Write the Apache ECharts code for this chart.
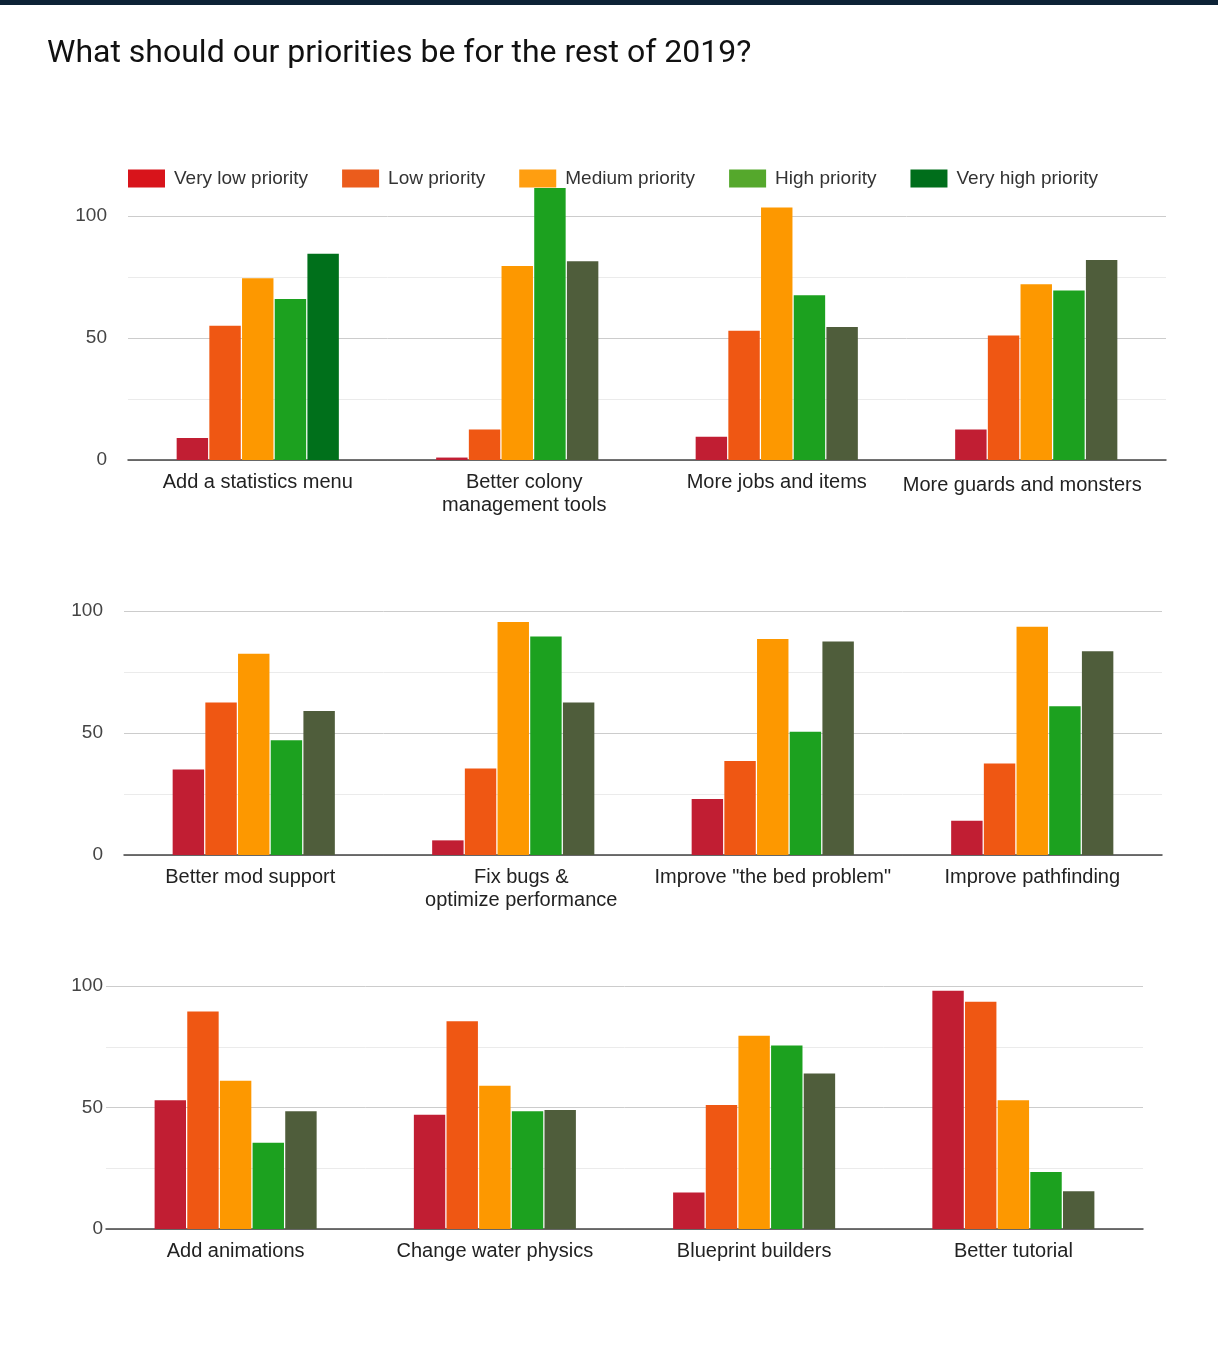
<!DOCTYPE html>
<html>
<head>
<meta charset="utf-8">
<script src="https://cdn.jsdelivr.net/npm/echarts@6/dist/echarts.min.js"></script>
<style>
html,body{margin:0;padding:0;background:#fff;}
#chart{width:1218px;height:1356px;}
</style>
</head>
<body>
<div id="chart"></div>
<script>
const titleText = 'What should our priorities be for the rest of 2019?';
const seriesNames = ['Very low priority', 'Low priority', 'Medium priority', 'High priority', 'Very high priority'];

const cats1 = ['Add a statistics menu', 'Better colony\nmanagement tools', 'More jobs and items', 'More guards and monsters'];
const cats2 = ['Better mod support', 'Fix bugs &\noptimize performance', 'Improve "the bed problem"', 'Improve pathfinding'];
const cats3 = ['Add animations', 'Change water physics', 'Blueprint builders', 'Better tutorial'];

const veryLow1 = [9, 1, 9.5, 12.5];
const low1 = [55, 12.5, 53, 51];
const medium1 = [74.5, 79.5, 103.5, 72];
const high1 = [66, 111.5, 67.5, 69.5];
const veryHigh1 = [84.5, 81.5, 54.5, 82];

const veryLow2 = [35, 6, 23, 14];
const low2 = [62.5, 35.5, 38.5, 37.5];
const medium2 = [82.5, 95.5, 88.5, 93.5];
const high2 = [47, 89.5, 50.5, 61];
const veryHigh2 = [59, 62.5, 87.5, 83.5];

const veryLow3 = [53, 47, 15, 98];
const low3 = [89.5, 85.5, 51, 93.5];
const medium3 = [61, 59, 79.5, 53];
const high3 = [35.5, 48.5, 75.5, 23.5];
const veryHigh3 = [48.5, 49, 64, 15.5];

const yTicks = [0, 50, 100];

// styling (kept apart from the data)
const barColors = ['#c11e33', '#ef5713', '#fd9800', '#1ca11f', '#4f5d3b'];
const legendColors = ['#d8141b', '#eb5c1c', '#ff9e10', '#55a82c', '#006e1b'];
const specialColor = '#00701b';
// label paddings [top, right, bottom, left] per chart / category, to shift a few labels
const labelPads = [
  [null, [0, 0, 0, 14], null, [3, 28, 0, 0]],
  [[0, 7, 0, 0], [0, 0, 0, 16], null, null],
  [null, null, null, null]
];

const chartData = [
  [veryLow1, low1, medium1, high1, veryHigh1],
  [veryLow2, low2, medium2, high2, veryHigh2],
  [veryLow3, low3, medium3, high3, veryHigh3]
];
const allCats = [cats1, cats2, cats3];

const grids = [
  {left: 128, width: 1038, top: 216, height: 244},
  {left: 124, width: 1038, top: 611, height: 244},
  {left: 106, width: 1037, top: 986, height: 243}
];
const labelMargins = [21, 21, 3];

const labelFont = '"Liberation Sans", Arial, sans-serif';

const xAxes = grids.map((g, i) => ({
  type: 'category', gridIndex: i,
  data: allCats[i].map((c, k) => labelPads[i][k] ? {value: c, textStyle: {padding: labelPads[i][k]}} : c),
  axisTick: {show: false},
  axisLine: {lineStyle: {color: '#444', width: 1.5}},
  axisLabel: {color: '#222', fontSize: 20, fontFamily: labelFont, margin: 11, lineHeight: 23, interval: 0}
}));
const yAxes = grids.map((g, i) => ({
  type: 'value', gridIndex: i, min: yTicks[0], max: yTicks[yTicks.length - 1], interval: yTicks[1] - yTicks[0],
  axisLine: {show: false}, axisTick: {show: false},
  axisLabel: {color: '#444', fontSize: 19, fontFamily: labelFont, margin: labelMargins[i]},
  splitLine: {lineStyle: {color: '#cccccc', width: 1}},
  minorTick: {show: false, splitNumber: 2},
  minorSplitLine: {show: true, lineStyle: {color: '#ebebeb', width: 1}}
}));

const series = [];
chartData.forEach((set, gi) => {
  set.forEach((vals, si) => {
    const data = vals.map((v, k) => {
      if (gi === 0 && si === 4 && k === 0) {
        return {value: v, itemStyle: {color: specialColor}};
      }
      return v;
    });
    series.push({
      type: 'bar', name: seriesNames[si], xAxisIndex: gi, yAxisIndex: gi,
      data: data, clip: false,
      barCategoryGap: '37.5%', barGap: '4%',
      itemStyle: {color: barColors[si]},
      emphasis: {disabled: true},
      animation: false
    });
  });
});

const chart = echarts.init(document.getElementById('chart'), null, {renderer: 'canvas'});
chart.setOption({
  backgroundColor: '#fff',
  animation: false,
  title: {
    text: titleText, left: 47, top: 38, padding: 0,
    textStyle: {fontSize: 32, lineHeight: 32, fontWeight: 'normal', color: '#111', fontFamily: 'Roboto, sans-serif'}
  },
  legend: {
    left: 128, top: 169, itemWidth: 37, itemHeight: 18, itemGap: 34, padding: 0,
    icon: 'rect',
    textStyle: {fontSize: 19, color: '#333', fontFamily: labelFont, padding: [0, 0, 0, 4]},
    data: seriesNames.map((n, i) => ({name: n, itemStyle: {color: legendColors[i]}}))
  },
  graphic: [{
    type: 'rect', left: 0, top: 0, shape: {width: 1218, height: 5},
    style: {fill: '#0d2236'}, silent: true
  }],
  grid: grids,
  xAxis: xAxes,
  yAxis: yAxes,
  series: series
});
</script>
</body>
</html>
